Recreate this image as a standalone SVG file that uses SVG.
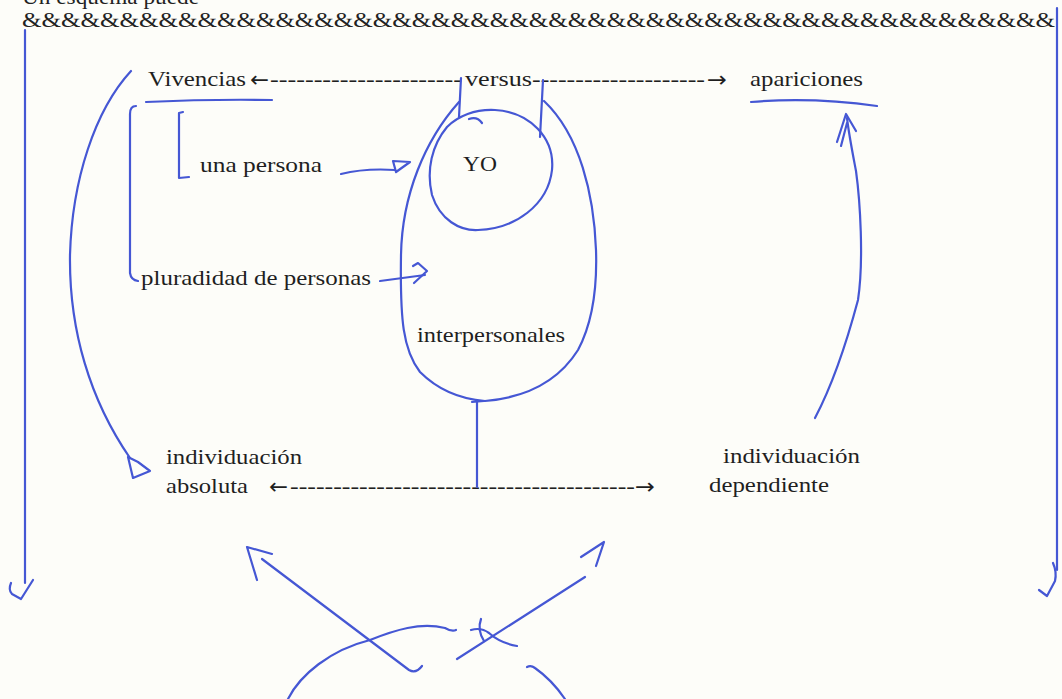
<svg xmlns="http://www.w3.org/2000/svg" width="1062" height="699" viewBox="0 0 1062 699">
  <defs>
    <style>
      .t { font-family: "Liberation Serif", "Times New Roman", serif; font-size: 22px; fill: #1f1f1f; }
      .ar { font-family: "DejaVu Sans", sans-serif; font-size: 22px; fill: #1f1f1f; }
      .hdr { font-family: "Liberation Serif", "Times New Roman", serif; font-size: 21px; fill: #222; }
      .pen { fill: none; stroke: #4557d4; stroke-width: 2.2; stroke-linecap: round; stroke-linejoin: round; }
    </style>
  </defs>

  <!-- paper -->
  <rect x="0" y="0" width="1062" height="699" fill="#fdfdf9"/>

  <!-- header lines -->
  <g id="header">
    <text class="hdr" x="22" y="4" textLength="177" lengthAdjust="spacingAndGlyphs">Un esquema puede</text>
    <text class="hdr" x="22" y="27" textLength="1033" lengthAdjust="spacingAndGlyphs">&amp;&amp;&amp;&amp;&amp;&amp;&amp;&amp;&amp;&amp;&amp;&amp;&amp;&amp;&amp;&amp;&amp;&amp;&amp;&amp;&amp;&amp;&amp;&amp;&amp;&amp;&amp;&amp;&amp;&amp;&amp;&amp;&amp;&amp;&amp;&amp;&amp;&amp;&amp;&amp;&amp;&amp;&amp;&amp;&amp;&amp;&amp;&amp;&amp;&amp;&amp;&amp;&amp;</text>
  </g>

  <!-- top row -->
  <g id="vivencias">
    <text class="t" x="148" y="86" textLength="98" lengthAdjust="spacingAndGlyphs">Vivencias</text>
    <path class="pen" d="M 146 102 Q 210 99 272 100"/>
  </g>
  <g id="versus">
    <text class="ar" x="250" y="87" textLength="19" lengthAdjust="spacingAndGlyphs">←</text>
    <text class="t" x="270" y="86" textLength="192" lengthAdjust="spacingAndGlyphs">----------------------</text>
    <text class="t" x="465" y="86" textLength="67" lengthAdjust="spacingAndGlyphs">versus</text>
    <text class="t" x="532" y="86" textLength="173" lengthAdjust="spacingAndGlyphs">--------------------</text>
    <text class="ar" x="707" y="87" textLength="20" lengthAdjust="spacingAndGlyphs">→</text>
  </g>
  <g id="apariciones">
    <text class="t" x="750" y="86" textLength="113" lengthAdjust="spacingAndGlyphs">apariciones</text>
    <path class="pen" d="M 751 102 Q 813 97 877 106"/>
  </g>

  <!-- central figure -->
  <g id="yo">
    <path class="pen" d="M 447 127 C 432 145, 426 170, 432 195 C 440 220, 460 231, 478 230 C 515 229, 548 205, 552 170 C 555 138, 530 112, 495 110 C 475 109, 458 116, 447 127"/>
    <path class="pen" d="M 482 123 Q 477 116 469 119"/>
    <text class="t" x="463" y="171" textLength="34" lengthAdjust="spacingAndGlyphs">YO</text>
  </g>
  <g id="interpersonales">
    <path class="pen" d="M 459 102 C 425 140, 402 195, 401 255 C 400 320, 403 350, 420 372 C 438 390, 460 399, 485 401 C 520 398, 556 385, 578 350 C 594 320, 597 280, 596 250 C 594 195, 580 135, 544 101"/>
    <text class="t" x="417" y="342" textLength="148" lengthAdjust="spacingAndGlyphs">interpersonales</text>
  </g>

  <!-- left labels -->
  <g id="una-persona">
    <text class="t" x="200" y="172" textLength="122" lengthAdjust="spacingAndGlyphs">una persona</text>
  </g>
  <g id="pluradidad">
    <text class="t" x="141" y="285" textLength="230" lengthAdjust="spacingAndGlyphs">pluradidad de personas</text>
  </g>

  <!-- bottom row -->
  <g id="individuacion-absoluta">
    <text class="t" x="166" y="464" textLength="136" lengthAdjust="spacingAndGlyphs">individuación</text>
    <text class="t" x="166" y="493" textLength="82" lengthAdjust="spacingAndGlyphs">absoluta</text>
  </g>
  <g id="individuacion-dependiente">
    <text class="t" x="723" y="463" textLength="137" lengthAdjust="spacingAndGlyphs">individuación</text>
    <text class="t" x="709" y="492" textLength="120" lengthAdjust="spacingAndGlyphs">dependiente</text>
  </g>
  <g id="bottom-axis">
    <text class="ar" x="269" y="494" textLength="19" lengthAdjust="spacingAndGlyphs">←</text>
    <text class="t" x="290" y="493" textLength="345" lengthAdjust="spacingAndGlyphs">----------------------------------------</text>
    <text class="ar" x="635" y="494" textLength="20" lengthAdjust="spacingAndGlyphs">→</text>
  </g>

  <!-- pen strokes linking the parts -->
  <g id="connectors">
    <!-- side borders with hooks -->
    <path class="pen" d="M 25 30 L 25 583"/>
    <path class="pen" d="M 11 583 Q 8 590 12 594 L 21 599 L 33 580"/>
    <path class="pen" d="M 1057 8 L 1057 570"/>
    <path class="pen" d="M 1053 563 Q 1057 572 1055 581 L 1047 596 L 1039 590"/>

    <!-- stems from versus into the figure -->
    <path class="pen" d="M 461 78 L 459 117"/>
    <path class="pen" d="M 543 80 L 540 137"/>
    <!-- stem from figure down to the bottom axis -->
    <path class="pen" d="M 472 402 L 484 401"/>
    <path class="pen" d="M 477 402 L 477 487"/>

    <!-- brackets -->
    <path class="pen" d="M 183 112 L 179 113 L 179 178 L 189 177"/>
    <path class="pen" d="M 136 106 Q 130 106 130 114 L 130 273 Q 131 280 138 281"/>

    <!-- una persona -> YO -->
    <path class="pen" d="M 341 174 Q 365 168 395 170"/>
    <path class="pen" d="M 393 161 L 410 162 L 396 172 Z"/>
    <!-- pluradidad -> interpersonales -->
    <path class="pen" d="M 380 281 L 425 275"/>
    <path class="pen" d="M 413 266 L 418 263 L 427 271 L 414 283"/>

    <!-- Vivencias -> individuación absoluta -->
    <path class="pen" d="M 131 71 C 95 110, 72 180, 70 255 C 69 330, 90 400, 130 458"/>
    <path class="pen" d="M 128 457 L 133 478 L 150 471 L 138 462 Z"/>

    <!-- individuación dependiente -> apariciones -->
    <path class="pen" d="M 815 418 C 835 380, 850 330, 858 300 C 864 260, 860 200, 856 171 C 852 150, 849 135, 847 118"/>
    <path class="pen" d="M 837 142 L 846 114 L 856 131"/>
    <path class="pen" d="M 841 146 L 847 123"/>

    <!-- crossed arrows at the bottom -->
    <path class="pen" d="M 262 559 L 409 670 Q 416 674 422 666"/>
    <path class="pen" d="M 257 580 L 247 547 L 272 554"/>
    <path class="pen" d="M 457 659 L 585 577"/>
    <path class="pen" d="M 581 557 L 604 542 L 596 566"/>

    <!-- arch under the crossing -->
    <path class="pen" d="M 288 699 C 300 675, 330 650, 370 640 C 395 630, 420 622, 445 628 Q 452 632 456 630"/>
    <path class="pen" d="M 471 630 Q 481 627 489 633 Q 500 643 517 646"/>
    <path class="pen" d="M 481 619 Q 477 630 484 641"/>
    <path class="pen" d="M 527 667 Q 531 665 535 668 Q 552 680 565 699"/>
  </g>
</svg>
